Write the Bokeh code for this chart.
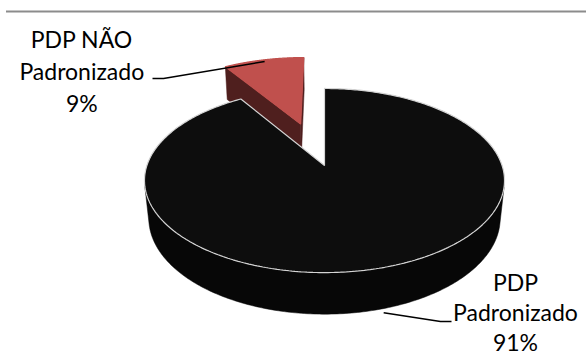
import numpy as np
from bokeh.plotting import figure
from bokeh.models import Range1d
from bokeh.embed import file_html
from bokeh.resources import INLINE
from bokeh.core.properties import value

# ---------------- data ----------------
categories = ["PDP Padronizado", "PDP NÃO Padronizado"]
values = [91, 9]
label_lines = [["PDP", "Padronizado"], ["PDP NÃO", "Padronizado"]]
top_colors = ["#0D0D0D", "#C0504D"]
side_colors = ["#070707", "#4F1F1E"]
explode = [0.0, 0.52]

# ---------------- layout ----------------
W, H = 586, 357
CX, CY = 324.0, 165.0
S = 177.6
ELEV = np.radians(30.3)
DIST = 5.29
DEPTH = 0.25
START = 90.0  # degrees, slices go clockwise from 12 o'clock

label_pos = [(515.0, 281.5), (81.3, 38.7)]
line_steps = [30.0, 31.7]
leader_elbows = [[(440.0, 321.0), (451.0, 321.0)], [(163.0, 78.0), (152.0, 78.0)]]
FONT = "Lato"
FONT_SIZE = "23px"

cam = np.array([0.0, -DIST * np.cos(ELEV), DIST * np.sin(ELEV)])


def project(x, y, z):
    x = np.asarray(x, float); y = np.asarray(y, float); z = np.asarray(z, float)
    u = y * np.sin(ELEV) + z * np.cos(ELEV)
    w = y * np.cos(ELEV) - z * np.sin(ELEV)
    f = DIST / (DIST + w)
    return CX + S * x * f, CY - S * u * f


def depth(x, y, z):
    return y * np.cos(ELEV) - z * np.sin(ELEV)


p = figure(width=W, height=H, x_range=Range1d(0, W), y_range=Range1d(H, 0),
           output_backend="svg", toolbar_location=None, min_border=0)
p.axis.visible = False
p.grid.visible = False
p.outline_line_color = None
p.background_fill_color = "white"
p.border_fill_color = "white"

# chart frame top border
p.segment(x0=[5.5], y0=[11], x1=[W], y1=[11], line_color="#8C8C8C", line_width=2)

total = float(sum(values))
slices = []
cum = 0.0
for i, v in enumerate(values):
    a0 = START - cum / total * 360.0
    a1 = a0 - v / total * 360.0
    cum += v
    mid = np.radians((a0 + a1) / 2)
    ex, ey = explode[i] * np.cos(mid), explode[i] * np.sin(mid)
    slices.append(dict(i=i, a0=a0, a1=a1, mid=mid, ex=ex, ey=ey,
                       d=depth(ex + 0.5 * np.cos(mid), ey + 0.5 * np.sin(mid), 0)))

# farther slices first
order = sorted(slices, key=lambda s: -s["d"])
anchors = {}
for s in order:
    i, a0, a1, ex, ey = s["i"], s["a0"], s["a1"], s["ex"], s["ey"]
    t = np.radians(np.linspace(a1, a0, 400))
    rx, ry = ex + np.cos(t), ey + np.sin(t)
    faces = []
    # cut faces
    for ang, sgn in ((a0, 1), (a1, -1)):
        ar = np.radians(ang)
        n = np.array([np.cos(ar + sgn * np.pi / 2), np.sin(ar + sgn * np.pi / 2), 0.0])
        apex = np.array([ex, ey, 0.0])
        if np.dot(n, cam - apex) > 0:
            qx = [ex, ex + np.cos(ar), ex + np.cos(ar), ex]
            qy = [ey, ey + np.sin(ar), ey + np.sin(ar), ey]
            qz = [0, 0, -DEPTH, -DEPTH]
            faces.append(project(qx, qy, qz))
    # outer curved side, front facing part
    vis = (np.cos(t) * (cam[0] - rx) + np.sin(t) * (cam[1] - ry)) > 0
    if vis.any():
        tv = t[vis]
        sx = np.concatenate([ex + np.cos(tv), (ex + np.cos(tv))[::-1]])
        sy = np.concatenate([ey + np.sin(tv), (ey + np.sin(tv))[::-1]])
        sz = np.concatenate([np.zeros(len(tv)), np.full(len(tv), -DEPTH)])
        faces.append(project(sx, sy, sz))
    for fx, fy in faces:
        p.patch(list(fx), list(fy), fill_color=side_colors[i], line_color=side_colors[i], line_width=0.5)
    # top face
    tx = np.concatenate([[ex], rx])
    ty = np.concatenate([[ey], ry])
    px, py = project(tx, ty, np.zeros(len(tx)))
    edge = "#D4D4D4" if i == 0 else top_colors[i]
    p.patch(list(px), list(py), fill_color=top_colors[i], line_color=edge, line_width=1.2)
    # leader anchor
    m = s["mid"]
    if explode[i] > 0:
        ax, ay = project([ex + 0.97 * np.cos(m)], [ey + 0.97 * np.sin(m)], [0.0])
    else:
        ax, ay = project([ex + 1.03 * np.cos(m)], [ey + 1.03 * np.sin(m)], [-DEPTH])
    anchors[i] = (float(ax[0]), float(ay[0]))

# leader lines
for i in range(len(values)):
    pts = [anchors[i]] + leader_elbows[i]
    p.line([q[0] for q in pts], [q[1] for q in pts], line_color="black", line_width=1.5)

# data labels
lx, ly, lt = [], [], []
for i, v in enumerate(values):
    lines = label_lines[i] + ["%d%%" % round(v / total * 100)]
    for k, txt in enumerate(lines):
        lx.append(label_pos[i][0])
        ly.append(label_pos[i][1] + k * line_steps[i])
        lt.append(txt)
p.text(x=lx, y=ly, text=lt, text_font=value(FONT), text_font_size=FONT_SIZE,
       text_align="center", text_baseline="alphabetic", text_color="#000000")

open("out.html", "w").write(file_html(p, INLINE))
